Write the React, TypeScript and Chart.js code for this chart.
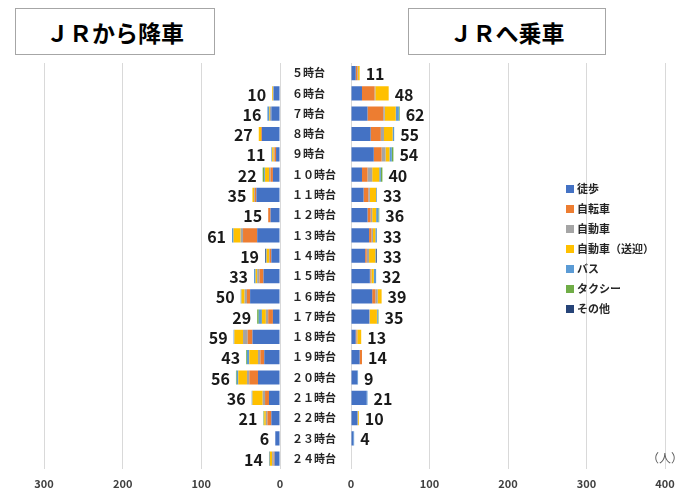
import React, { useEffect, useRef } from 'react';
import { Chart, registerables } from 'chart.js';
Chart.register(...registerables);

const FONT = '"Noto Sans CJK JP", "Noto Sans", sans-serif';

const hours = ['５時台', '６時台', '７時台', '８時台', '９時台', '１０時台', '１１時台', '１２時台', '１３時台', '１４時台',
  '１５時台', '１６時台', '１７時台', '１８時台', '１９時台', '２０時台', '２１時台', '２２時台', '２３時台', '２４時台'];

const modes = ['徒歩', '自転車', '自動車', '自動車（送迎）', 'バス', 'タクシー', 'その他'];
const colors = ['#4472C4', '#ED7D31', '#A5A5A5', '#FFC000', '#5B9BD5', '#70AD47', '#264478'];

// JRから降車
const offWalk = [0, 8, 11, 23, 5, 9, 30, 12, 29, 11, 21, 38, 9, 35, 20, 28, 14, 11, 6, 7];
const offBike = [0, 0, 0, 1, 2, 3, 2, 3, 18, 2, 5, 4, 6, 6, 5, 11, 5, 5, 0, 1];
const offCar = [0, 1, 2, 0, 1, 2, 1, 0, 3, 1, 3, 3, 3, 6, 3, 3, 3, 2, 0, 2];
const offPickup = [0, 1, 1, 3, 2, 5, 2, 0, 9, 3, 2, 4, 5, 11, 11, 11, 13, 2, 0, 3];
const offBus = [0, 0, 2, 0, 1, 1, 0, 0, 2, 1, 2, 1, 4, 1, 3, 2, 1, 0, 0, 1];
const offTaxi = [0, 0, 0, 0, 0, 2, 0, 0, 0, 0, 0, 0, 2, 0, 1, 1, 0, 1, 0, 0];
const offOther = [0, 0, 0, 0, 0, 0, 0, 0, 0, 1, 0, 0, 0, 0, 0, 0, 0, 0, 0, 0];

// JRへ乗車
const onWalk = [6, 14, 21, 25, 29, 14, 16, 21, 23, 18, 24, 27, 23, 6, 11, 8, 20, 8, 3, 0];
const onBike = [2, 16, 20, 13, 10, 7, 6, 4, 3, 2, 1, 4, 0, 1, 3, 0, 0, 0, 0, 0];
const onCar = [1, 1, 2, 4, 5, 6, 2, 2, 2, 3, 1, 3, 1, 1, 0, 0, 0, 1, 0, 0];
const onPickup = [2, 17, 14, 11, 5, 9, 8, 5, 3, 8, 3, 5, 9, 5, 0, 0, 0, 1, 0, 0];
const onBus = [0, 0, 4, 2, 3, 2, 1, 3, 2, 1, 3, 0, 1, 0, 0, 1, 1, 0, 1, 0];
const onTaxi = [0, 0, 1, 0, 2, 2, 0, 1, 0, 0, 0, 0, 1, 0, 0, 0, 0, 0, 0, 0];
const onOther = [0, 0, 0, 0, 0, 0, 0, 0, 0, 1, 0, 0, 0, 0, 0, 0, 0, 0, 0, 0];

const offSeries = [offWalk, offBike, offCar, offPickup, offBus, offTaxi, offOther];
const onSeries = [onWalk, onBike, onCar, onPickup, onBus, onTaxi, onOther];

const W = 688;
const H = 489;
const CH = 498;

const totalsPlugin = {
  id: 'totals',
  afterDatasetsDraw(chart: any, _a: any, opts: any) {
    const { ctx } = chart;
    const xs = chart.scales.x;
    const ys = chart.scales.y;
    const n = chart.data.labels.length;
    ctx.save();
    ctx.font = `bold 16px ${FONT}`;
    ctx.fillStyle = '#1a1a1a';
    ctx.textBaseline = 'middle';
    for (let i = 0; i < n; i++) {
      let t = 0;
      chart.data.datasets.forEach((d: any) => { t += d.data[i]; });
      if (t <= 0) continue;
      const x = xs.getPixelForValue(t);
      const y = ys.getPixelForValue(i);
      if (opts.reverse) {
        ctx.textAlign = 'right';
        ctx.fillText(String(t), x - 6, y + 1);
      } else {
        ctx.textAlign = 'left';
        ctx.fillText(String(t), x + 6, y + 1);
      }
    }
    ctx.restore();
  },
};

const catPlugin = {
  id: 'catLabels',
  afterDraw(chart: any, _a: any, opts: any) {
    if (!opts.show) return;
    const { ctx, chartArea } = chart;
    const ys = chart.scales.y;
    ctx.save();
    ctx.font = `bold 11px ${FONT}`;
    ctx.fillStyle = '#262626';
    ctx.textBaseline = 'middle';
    ctx.textAlign = 'left';
    chart.data.labels.forEach((l: string, i: number) => {
      ctx.fillText(l, chartArea.left - 59, ys.getPixelForValue(i));
    });
    // legend
    ctx.font = `bold 11px ${FONT}`;
    chart.data.datasets.forEach((d: any, i: number) => {
      const y = 189 + i * 20;
      ctx.fillStyle = d.backgroundColor;
      ctx.fillRect(566, y - 4, 8, 8);
      ctx.fillStyle = '#262626';
      ctx.fillText(d.label, 577, y);
    });
    ctx.fillStyle = '#595959';
    ctx.font = `12px ${FONT}`;
    ctx.fillText('（人）', 647, 458);
    ctx.restore();
  },
};

function makeChart(canvas: HTMLCanvasElement, series: number[][], reverse: boolean) {
  return new Chart(canvas, {
    type: 'bar',
    data: {
      labels: hours,
      datasets: series.map((s, i) => ({
        label: modes[i],
        data: s,
        backgroundColor: colors[i],
        borderWidth: 0,
        categoryPercentage: 1,
        barPercentage: 0.7,
      })),
    },
    options: {
      indexAxis: 'y',
      animation: false,
      responsive: false,
      maintainAspectRatio: false,
      layout: {
        padding: reverse
          ? { left: 44, right: W - 280, top: 63, bottom: 0 }
          : { left: 351, right: W - 665, top: 63, bottom: 0 },
      },
      plugins: {
        legend: { display: false },
        tooltip: { enabled: false },
        totals: { reverse },
        catLabels: { show: !reverse },
      } as any,
      scales: {
        x: {
          stacked: true,
          min: 0,
          max: reverse ? 300 : 400,
          reverse,
          grid: { color: '#d9d9d9', drawTicks: false, lineWidth: 1 },
          border: { display: false },
          ticks: {
            stepSize: 100,
            padding: 8,
            color: '#404040',
            font: { family: FONT, size: 11, weight: 'bold' },
          },
        },
        y: {
          stacked: true,
          display: false,
          grid: { display: false },
        },
      },
    },
    plugins: [totalsPlugin, catPlugin],
  } as any);
}

export default function App() {
  const leftRef = useRef<HTMLCanvasElement>(null);
  const rightRef = useRef<HTMLCanvasElement>(null);

  useEffect(() => {
    const a = makeChart(leftRef.current!, offSeries, true);
    const b = makeChart(rightRef.current!, onSeries, false);
    return () => { a.destroy(); b.destroy(); };
  }, []);

  const box: React.CSSProperties = {
    position: 'absolute',
    top: 8,
    height: 47,
    boxSizing: 'border-box',
    border: '1.5px solid #a6a6a6',
    background: '#fff',
    display: 'flex',
    alignItems: 'center',
    justifyContent: 'center',
    fontFamily: FONT,
    fontSize: 23,
    fontWeight: 700,
    color: '#000',
    zIndex: 2,
  };

  const cv: React.CSSProperties = { position: 'absolute', left: 0, top: 0, width: W, height: CH };

  return (
    <div style={{ position: 'fixed', left: 0, top: 0, width: W, height: H, background: '#fff', overflow: 'hidden' }}>
      <canvas ref={leftRef} width={W} height={CH} style={cv} />
      <canvas ref={rightRef} width={W} height={CH} style={cv} />
      <div style={{ ...box, left: 15, width: 200 }}>ＪＲから降車</div>
      <div style={{ ...box, left: 408, width: 198 }}>ＪＲへ乗車</div>
    </div>
  );
}
